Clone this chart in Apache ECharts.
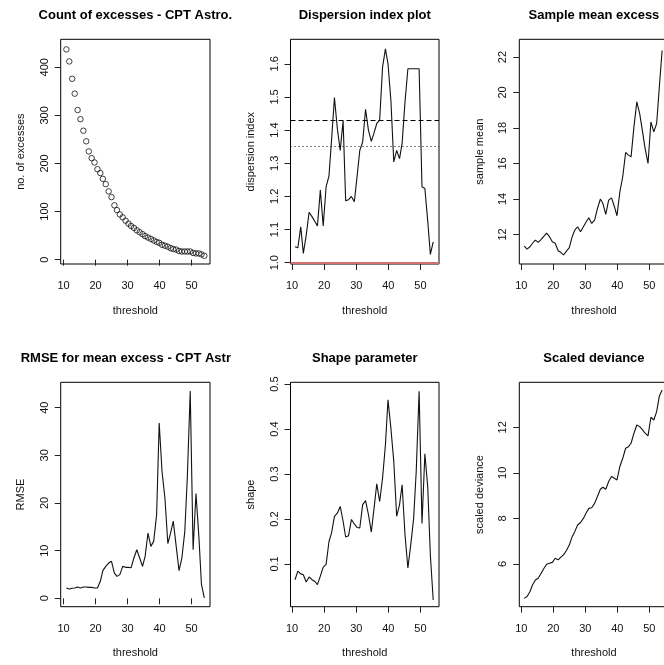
<!DOCTYPE html>
<html>
<head>
<meta charset="utf-8">
<script src="https://cdn.jsdelivr.net/npm/echarts@6/dist/echarts.min.js"></script>
<style>
  html, body { margin: 0; padding: 0; background: #ffffff; }
  #chart { width: 664px; height: 665px; }
</style>
</head>
<body>
<div id="chart"></div>
<script>
// Threshold grid shared by all six diagnostic panels
const thresholds = [10.9, 11.8, 12.7, 13.5, 14.4, 15.3, 16.2, 17.1, 17.9, 18.8,
  19.7, 20.6, 21.5, 22.3, 23.2, 24.1, 25.0, 25.9, 26.7, 27.6,
  28.5, 29.4, 30.3, 31.1, 32.0, 32.9, 33.8, 34.7, 35.5, 36.4,
  37.3, 38.2, 39.1, 39.9, 40.8, 41.7, 42.6, 43.5, 44.3, 45.2,
  46.1, 47.0, 47.9, 48.7, 49.6, 50.5, 51.4, 52.3, 53.1, 54.0];

// Number of observations above each threshold
const excessCounts = [437, 412, 376, 345, 311, 292, 268, 246, 225, 211,
  202, 188, 180, 168, 157, 142, 130, 113, 103, 94,
  88, 81, 75, 70, 66, 61, 57, 53, 49, 46,
  43, 40, 37, 35, 31, 29, 27, 24, 22, 21,
  18, 17, 17, 17, 17, 14, 13, 13, 11, 8];

// Dispersion index of the excess counts
const dispersionIndex = [1.048, 1.045, 1.108, 1.028, 1.083, 1.152, 1.139, 1.124, 1.111, 1.219,
  1.111, 1.229, 1.262, 1.370, 1.498, 1.405, 1.339, 1.428, 1.187, 1.190,
  1.200, 1.184, 1.264, 1.339, 1.364, 1.463, 1.400, 1.366, 1.390, 1.420,
  1.430, 1.590, 1.645, 1.600, 1.490, 1.304, 1.339, 1.314, 1.360, 1.485,
  1.585, 1.585, 1.585, 1.585, 1.585, 1.229, 1.224, 1.124, 1.025, 1.063];
const dispersionUpper = 1.43;   // dashed reference level
const dispersionLower = 1.35;   // dotted reference level
const dispersionUnit = 1.0;     // Poisson reference

// Sample mean excess above each threshold
const sampleMean = [11.34, 11.17, 11.30, 11.50, 11.68, 11.55, 11.72, 11.90, 12.07, 11.87,
  11.59, 11.50, 11.08, 10.99, 10.84, 11.06, 11.25, 11.87, 12.24, 12.43,
  12.15, 12.43, 12.71, 12.94, 12.62, 12.80, 13.46, 13.99, 13.74, 13.13,
  13.93, 14.06, 13.56, 13.05, 14.40, 15.25, 16.62, 16.47, 16.37, 18.06,
  19.47, 18.81, 17.78, 16.84, 16.00, 18.34, 17.78, 18.25, 20.22, 22.37];

// RMSE of the mean excess
const rmse = [2.17, 1.96, 2.10, 2.17, 2.38, 2.17, 2.38, 2.38, 2.30, 2.30,
  2.17, 2.17, 3.57, 5.80, 6.70, 7.40, 7.76, 5.30, 4.60, 4.97,
  6.70, 6.50, 6.50, 6.40, 8.46, 10.2, 8.46, 6.70, 8.80, 13.7,
  10.9, 12.0, 17.6, 36.8, 26.5, 21.0, 11.5, 13.8, 16.2, 11.0,
  5.80, 8.50, 14.0, 25.5, 43.5, 10.2, 22.0, 13.0, 3.00, 0.10];

// Fitted GPD shape parameter
const shapeParam = [0.065, 0.084, 0.078, 0.076, 0.060, 0.071, 0.065, 0.061, 0.054, 0.073,
  0.093, 0.099, 0.150, 0.169, 0.206, 0.213, 0.228, 0.195, 0.160, 0.163,
  0.199, 0.189, 0.181, 0.180, 0.232, 0.241, 0.210, 0.171, 0.221, 0.278,
  0.239, 0.291, 0.365, 0.465, 0.402, 0.328, 0.206, 0.232, 0.276, 0.165,
  0.091, 0.143, 0.202, 0.306, 0.484, 0.190, 0.345, 0.270, 0.120, 0.020];

// Scaled deviance of the fit
const scaledDeviance = [4.49, 4.57, 4.78, 5.08, 5.30, 5.37, 5.59, 5.81, 5.99, 6.03,
  6.07, 6.25, 6.18, 6.29, 6.40, 6.59, 6.83, 7.20, 7.42, 7.71,
  7.82, 8.00, 8.25, 8.44, 8.47, 8.66, 8.96, 9.28, 9.37, 9.28,
  9.62, 9.84, 9.76, 9.69, 10.28, 10.64, 11.08, 11.15, 11.30, 11.74,
  12.10, 12.03, 11.89, 11.74, 11.62, 12.44, 12.32, 12.69, 13.35, 13.64];

// Tick positions
const xTicks = [10, 20, 30, 40, 50];
const countTicks = [0, 100, 200, 300, 400];
const dispersionTicks = [1.0, 1.1, 1.2, 1.3, 1.4, 1.5, 1.6];
const meanTicks = [12, 14, 16, 18, 20, 22];
const rmseTicks = [0, 10, 20, 30, 40];
const shapeTicks = [0.1, 0.2, 0.3, 0.4, 0.5];
const devianceTicks = [6, 8, 10, 12];

// Titles
const titles = [
  'Count of excesses - CPT Astro.',
  'Dispersion index plot',
  'Sample mean excess',
  'RMSE for mean excess - CPT Astr',
  'Shape parameter',
  'Scaled deviance'
];
const yNames = ['no. of excesses', 'dispersion index', 'sample mean', 'RMSE', 'shape', 'scaled deviance'];

const FONT = '"Liberation Sans", Arial, Helvetica, sans-serif';
const TEXT = '#111111';

// Plot boxes (3 columns x 2 rows) and their axis ranges
const boxes = [
  { left: 60.7,  top: 39.3,  width: 149.3, height: 224.7, x: [9.12, 55.78], y: [-9, 458] },
  { left: 290.5, top: 39.3,  width: 148.5, height: 224.7, x: [9.5, 55.8],   y: [0.996, 1.674] },
  { left: 519.3, top: 39.3,  width: 149.3, height: 224.7, x: [9.375, 56.03], y: [10.33, 23.0] },
  { left: 60.7,  top: 382.3, width: 149.3, height: 224.4, x: [9.12, 55.78], y: [-1.76, 45.33] },
  { left: 290.5, top: 382.3, width: 148.5, height: 224.4, x: [9.5, 55.8],   y: [0.005, 0.504] },
  { left: 519.3, top: 382.3, width: 149.3, height: 224.4, x: [9.375, 56.03], y: [4.125, 13.975] }
];
const yTickSets = [countTicks, dispersionTicks, meanTicks, rmseTicks, shapeTicks, devianceTicks];
const yFormats = [
  v => String(v),
  v => v.toFixed(1),
  v => String(v),
  v => String(v),
  v => String(v),
  v => String(v)
];

const grids = boxes.map(b => ({
  left: b.left, top: b.top, width: b.width, height: b.height,
  show: true, borderColor: '#000', borderWidth: 1, backgroundColor: 'transparent',
  containLabel: false, outerBoundsMode: 'none'
}));

const xAxes = boxes.map((b, i) => ({
  type: 'value', gridIndex: i, min: b.x[0], max: b.x[1],
  name: 'threshold', nameLocation: 'middle', nameGap: 41,
  nameTextStyle: { fontFamily: FONT, fontSize: 11, color: TEXT },
  axisLine: { show: false },
  axisTick: { show: true, inside: false, length: 6, customValues: xTicks, lineStyle: { color: '#222', width: 1 } },
  axisLabel: { show: true, customValues: xTicks, margin: 16.5, fontFamily: FONT, fontSize: 11, color: TEXT },
  splitLine: { show: false }
}));

const yAxes = boxes.map((b, i) => ({
  type: 'value', gridIndex: i, min: b.y[0], max: b.y[1],
  name: yNames[i], nameLocation: 'middle', nameGap: 34,
  nameTextStyle: { fontFamily: FONT, fontSize: 11, color: TEXT },
  axisLine: { show: false },
  axisTick: { show: true, inside: false, length: 6, customValues: yTickSets[i], lineStyle: { color: '#222', width: 1 } },
  axisLabel: { show: true, customValues: yTickSets[i], rotate: 90, margin: 10.5, formatter: yFormats[i],
               fontFamily: FONT, fontSize: 11, color: TEXT },
  splitLine: { show: false }
}));

const pairs = vals => thresholds.map((t, k) => [t, vals[k]]);

function lineSeries(idx, vals, extra) {
  return Object.assign({
    type: 'line', xAxisIndex: idx, yAxisIndex: idx, data: pairs(vals),
    showSymbol: false, symbol: 'none', smooth: false,
    lineStyle: { color: '#111', width: 1.1 },
    emphasis: { disabled: true }, silent: true
  }, extra || {});
}

const series = [
  {
    type: 'scatter', xAxisIndex: 0, yAxisIndex: 0, data: pairs(excessCounts),
    symbol: 'circle', symbolSize: 5.5,
    itemStyle: { color: 'rgba(0,0,0,0)', borderColor: '#111', borderWidth: 1 },
    emphasis: { disabled: true }, silent: true
  },
  lineSeries(1, dispersionIndex, {
    markLine: {
      silent: true, symbol: ['none', 'none'], label: { show: false },
      emphasis: { disabled: true },
      data: [
        { yAxis: dispersionUpper, lineStyle: { type: [5, 3], color: '#000', width: 1 } },
        { yAxis: dispersionLower, lineStyle: { type: [1, 3], color: '#000', width: 1 } },
        { yAxis: dispersionUnit, lineStyle: { type: 'solid', color: '#d47070', width: 2 } }
      ]
    }
  }),
  lineSeries(2, sampleMean),
  lineSeries(3, rmse),
  lineSeries(4, shapeParam),
  lineSeries(5, scaledDeviance)
];

// Panel titles, centred over each plot box (the RMSE title runs out of its figure column)
const titleRows = [15.5, 358.3];
const graphics = titles.map((txt, i) => {
  const b = boxes[i];
  const row = i < 3 ? 0 : 1;
  const leftAligned = i === 3;
  return {
    type: 'text',
    x: leftAligned ? 20.7 : b.left + b.width / 2,
    y: titleRows[row],
    silent: true,
    style: {
      text: txt, fill: '#000',
      font: 'bold 13px ' + FONT,
      align: leftAligned ? 'left' : 'center',
      verticalAlign: 'middle'
    }
  };
});

const chart = echarts.init(document.getElementById('chart'), null, { renderer: 'canvas' });
chart.setOption({
  animation: false,
  backgroundColor: '#ffffff',
  textStyle: { fontFamily: FONT },
  grid: grids,
  xAxis: xAxes,
  yAxis: yAxes,
  series: series,
  graphic: graphics
});
</script>
</body>
</html>
